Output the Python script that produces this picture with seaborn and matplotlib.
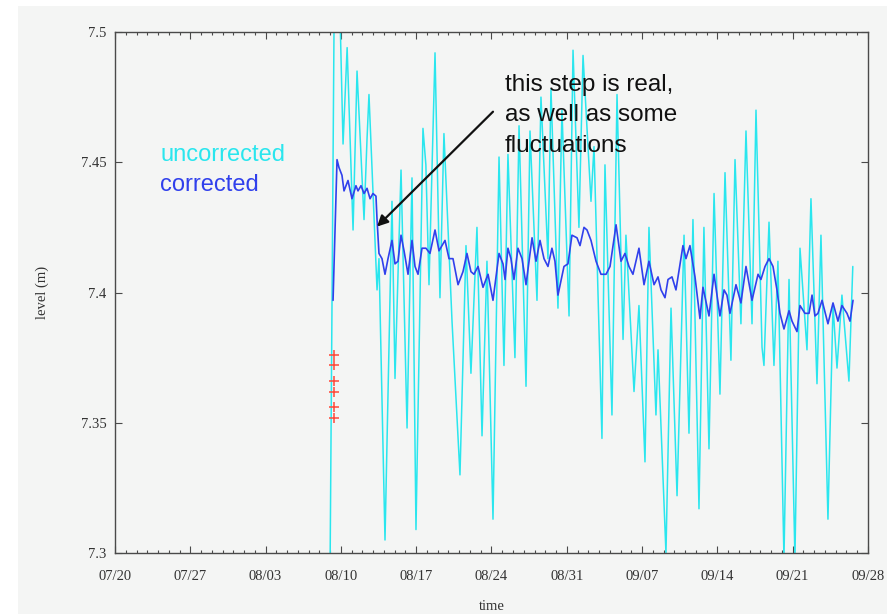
import pandas as pd
import matplotlib
matplotlib.use("Agg")
import matplotlib.pyplot as plt
import matplotlib.dates as mdates
from matplotlib.patches import Rectangle
import seaborn as sns

# ---- data: days after 07/20, water level in metres ----
start = pd.Timestamp("2020-07-20")

raw_days = [
    20.00, 20.50, 21.20, 21.58, 22.13, 22.50, 23.15, 23.43, 23.61, 24.36,
    24.54, 25.10, 25.75, 26.03, 26.59, 27.15, 27.61, 27.98, 28.63, 28.90,
    29.19, 29.75, 30.21, 30.58, 31.33, 32.07, 32.63, 33.09, 33.65, 34.12,
    34.58, 35.14, 35.70, 36.16, 36.53, 37.18, 37.56, 38.21, 38.58, 39.23,
    39.60, 40.25, 40.53, 41.18, 41.55, 42.21, 42.58, 43.13, 43.51, 44.25,
    44.53, 45.27, 45.55, 46.20, 46.67, 47.23, 47.50, 48.25, 48.71, 49.27,
    49.64, 50.29, 50.48, 51.22, 51.69, 52.25, 52.90, 53.36, 53.73, 54.29,
    54.75, 55.22, 55.69, 56.24, 56.71, 57.26, 57.64, 58.19, 58.66, 59.22,
    59.59, 60.15, 60.33, 60.80, 61.26, 61.63, 62.19, 62.66, 63.21, 63.68,
    64.33, 64.70, 65.26, 65.63, 66.28, 66.75, 67.12, 67.58, 68.23, 68.59,
]
raw_level = [
    7.298, 7.580, 7.457, 7.494, 7.424, 7.485, 7.428, 7.459, 7.476, 7.401,
    7.413, 7.305, 7.435, 7.367, 7.447, 7.348, 7.444, 7.309, 7.463, 7.449,
    7.403, 7.492, 7.398, 7.461, 7.389, 7.330, 7.418, 7.369, 7.425, 7.345,
    7.412, 7.313, 7.452, 7.372, 7.453, 7.375, 7.464, 7.364, 7.462, 7.397,
    7.475, 7.413, 7.478, 7.394, 7.470, 7.391, 7.493, 7.425, 7.491, 7.435,
    7.456, 7.344, 7.449, 7.353, 7.476, 7.382, 7.422, 7.362, 7.395, 7.335,
    7.425, 7.353, 7.378, 7.300, 7.394, 7.322, 7.422, 7.346, 7.428, 7.317,
    7.425, 7.340, 7.438, 7.361, 7.446, 7.374, 7.451, 7.388, 7.462, 7.388,
    7.470, 7.379, 7.372, 7.427, 7.372, 7.412, 7.298, 7.405, 7.298, 7.417,
    7.378, 7.436, 7.365, 7.422, 7.313, 7.395, 7.371, 7.399, 7.366, 7.410,
]

corr_days = [
    20.27, 20.64, 20.82, 21.10, 21.29, 21.66, 22.03, 22.40, 22.59, 22.87,
    23.15, 23.43, 23.71, 23.98, 24.26, 24.36, 24.54, 24.82, 25.10, 25.38,
    25.75, 26.03, 26.31, 26.59, 26.87, 27.24, 27.61, 27.89, 28.17, 28.54,
    28.91, 29.28, 29.75, 30.12, 30.68, 31.05, 31.42, 31.89, 32.35, 32.72,
    33.09, 33.37, 33.75, 34.21, 34.68, 35.14, 35.70, 36.07, 36.26, 36.53,
    36.81, 37.09, 37.46, 37.84, 38.21, 38.77, 39.14, 39.51, 39.88, 40.25,
    40.62, 40.90, 41.18, 41.74, 42.11, 42.48, 42.95, 43.23, 43.60, 43.88,
    44.25, 44.72, 45.18, 45.65, 46.02, 46.58, 47.04, 47.41, 47.78, 48.15,
    48.71, 49.18, 49.64, 50.11, 50.48, 50.76, 51.13, 51.41, 51.78, 52.15,
    52.80, 53.08, 53.45, 53.92, 54.38, 54.66, 55.22, 55.69, 56.24, 56.62,
    56.89, 57.17, 57.73, 58.19, 58.66, 59.22, 59.78, 60.05, 60.43, 60.80,
    61.17, 61.54, 61.82, 62.19, 62.66, 62.94, 63.40, 63.68, 64.14, 64.52,
    64.80, 65.07, 65.35, 65.73, 66.28, 66.75, 67.21, 67.58, 68.05, 68.33,
    68.61,
]
corr_level = [
    7.397, 7.451, 7.448, 7.445, 7.439, 7.443, 7.436, 7.441, 7.439, 7.441,
    7.438, 7.440, 7.436, 7.438, 7.437, 7.428, 7.415, 7.413, 7.407, 7.413,
    7.420, 7.411, 7.412, 7.422, 7.416, 7.407, 7.420, 7.410, 7.407, 7.417,
    7.417, 7.415, 7.424, 7.416, 7.420, 7.413, 7.413, 7.403, 7.408, 7.415,
    7.408, 7.407, 7.410, 7.402, 7.407, 7.397, 7.415, 7.411, 7.405, 7.417,
    7.413, 7.405, 7.417, 7.413, 7.403, 7.421, 7.412, 7.420, 7.413, 7.410,
    7.417, 7.412, 7.399, 7.410, 7.411, 7.422, 7.421, 7.418, 7.425, 7.424,
    7.420, 7.412, 7.407, 7.407, 7.410, 7.426, 7.412, 7.415, 7.410, 7.407,
    7.417, 7.403, 7.412, 7.403, 7.406, 7.401, 7.398, 7.405, 7.406, 7.401,
    7.418, 7.413, 7.418, 7.406, 7.390, 7.402, 7.391, 7.407, 7.391, 7.401,
    7.399, 7.392, 7.403, 7.396, 7.410, 7.397, 7.407, 7.405, 7.410, 7.413,
    7.410, 7.401, 7.392, 7.386, 7.393, 7.389, 7.385, 7.395, 7.392, 7.392,
    7.399, 7.391, 7.392, 7.397, 7.388, 7.396, 7.389, 7.395, 7.392, 7.389,
    7.397,
]

# calibration readings
cal_days = [20.40, 20.40, 20.37, 20.37, 20.35, 20.35]
cal_level = [7.376, 7.372, 7.366, 7.362, 7.356, 7.352]

tick_labels = ["07/20", "07/27", "08/03", "08/10", "08/17", "08/24",
               "08/31", "09/07", "09/14", "09/21", "09/28"]
y_ticks = [7.3, 7.35, 7.4, 7.45, 7.5]

# ---- style ----
sns.set_theme(style="ticks")
panel = "#f4f5f4"
ink = "#333333"
cyan = "#2ae6ee"
blue = "#3040ec"
serif = ["Liberation Serif", "DejaVu Serif"]
sans = ["Liberation Sans", "DejaVu Sans"]
plt.rcParams["font.family"] = serif

def to_time(days):
    return start + pd.to_timedelta(pd.Series(days), unit="D")

raw = pd.DataFrame({"time": to_time(raw_days), "level": raw_level})
corr = pd.DataFrame({"time": to_time(corr_days), "level": corr_level})
cal = pd.DataFrame({"time": to_time(cal_days), "level": cal_level})

fig = plt.figure(figsize=(8.95, 6.14), dpi=100, facecolor="white")
fig.patches.append(Rectangle((0.0201, 0.0), 0.971, 0.990,
                             transform=fig.transFigure, facecolor=panel,
                             edgecolor="none", zorder=-10))
ax = fig.add_axes([0.1285, 0.0993, 0.8413, 0.8486])
ax.set_facecolor(panel)

sns.lineplot(data=raw, x="time", y="level", ax=ax, color=cyan, lw=1.1,
             estimator=None, sort=False, zorder=2)
sns.lineplot(data=corr, x="time", y="level", ax=ax, color=blue, lw=1.2,
             estimator=None, sort=False, zorder=3)
sns.scatterplot(data=cal, x="time", y="level", ax=ax, marker="+", s=45,
                color="#ff4a3a", linewidth=1.1, zorder=5)

# ---- axes ----
tick_dates = [pd.Timestamp(f"2020-{t[:2]}-{t[3:]}") for t in tick_labels]
ax.set_xlim(tick_dates[0], tick_dates[-1])
ax.set_ylim(y_ticks[0], y_ticks[-1])
ax.set_xticks(tick_dates)
ax.set_xticklabels(tick_labels)
ax.set_xticks(pd.date_range(tick_dates[0], tick_dates[-1], freq="D"), minor=True)
ax.set_yticks(y_ticks)
ax.set_yticklabels([f"{v:g}" for v in y_ticks])

for s in ax.spines.values():
    s.set_visible(True)
    s.set_color("#4a4a4a")
    s.set_linewidth(1.0)

ax.tick_params(which="both", direction="in", top=True, right=True,
               color="#4a4a4a", width=0.8)
ax.tick_params(which="major", length=5)
ax.tick_params(which="minor", length=2.5)
ax.tick_params(axis="x", which="major", pad=12, labelsize=10.5, labelcolor=ink)
ax.tick_params(axis="y", which="major", pad=6, labelsize=10.5, labelcolor=ink)
ax.yaxis.set_minor_locator(matplotlib.ticker.NullLocator())

ax.set_xlabel("time", fontsize=10.5, color=ink)
ax.set_ylabel("level (m)", fontsize=10.5, color=ink)
ax.xaxis.label.set_va("center")
ax.yaxis.label.set_va("center")
ax.xaxis.set_label_coords(0.5, -0.102)
ax.yaxis.set_label_coords(-0.097, 0.5)

# ---- legend-style labels ----
ax.text(0.06, 0.764, "uncorrected", transform=ax.transAxes, color=cyan,
        fontsize=17, family=sans, ha="left", va="center")
ax.text(0.06, 0.706, "corrected", transform=ax.transAxes, color=blue,
        fontsize=17, family=sans, ha="left", va="center")

# ---- annotation of the step ----
tip = mdates.date2num(start + pd.Timedelta(days=24.36))
tail = mdates.date2num(start + pd.Timedelta(days=35.14))
ax.annotate("", xy=(tip, 7.4253), xytext=(tail, 7.4694),
            arrowprops=dict(arrowstyle="-|>", color="#111111", lw=1.6,
                            mutation_scale=16, shrinkA=0, shrinkB=0),
            zorder=6)
ax.text(mdates.date2num(start + pd.Timedelta(days=36.26)), 7.468,
        "this step is real,\nas well as some\nfluctuations",
        ha="left", va="center", fontsize=17.5, family=sans, color="#111111",
        linespacing=1.48, zorder=6)

fig.savefig("out.png", dpi=100, facecolor="white")
